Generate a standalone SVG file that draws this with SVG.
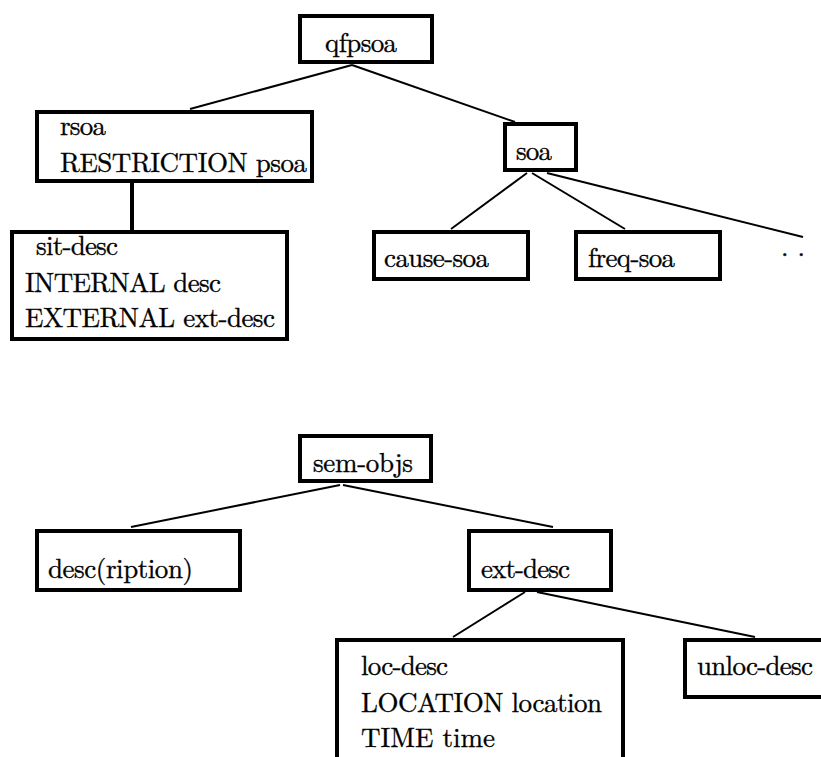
<svg xmlns="http://www.w3.org/2000/svg" width="821" height="757" viewBox="0 0 821 757">
<style>
.box{fill:none;stroke:#000;stroke-width:4}
.ln{stroke:#000;stroke-width:2;fill:none}
.thick{stroke:#000;stroke-width:4;fill:none}
text{font-family:'Latin Modern Roman','Liberation Serif',serif;font-size:27px;fill:#000;stroke:#000;stroke-width:0.35}
</style>
<rect width="821" height="757" fill="#fff"/>
<g id="connectors">
<line class="ln" x1="352" y1="65" x2="190" y2="109"/>
<line class="ln" x1="352" y1="65" x2="515" y2="122"/>
<line class="thick" x1="132" y1="183" x2="132" y2="231"/>
<line class="ln" x1="527" y1="173" x2="451" y2="229"/>
<line class="ln" x1="532" y1="173" x2="625" y2="229"/>
<line class="ln" x1="547" y1="173" x2="803" y2="237"/>
<line class="ln" x1="340" y1="485" x2="131" y2="527"/>
<line class="ln" x1="343" y1="485" x2="553" y2="527"/>
<line class="ln" x1="525" y1="592" x2="453" y2="637"/>
<line class="ln" x1="537" y1="592" x2="755" y2="637"/>
</g>
<g id="qfpsoa"><rect class="box" x="300" y="16" width="132" height="46"/><text x="325" y="52" textLength="72" lengthAdjust="spacing">qfpsoa</text></g>
<g id="rsoa"><rect class="box" x="37" y="112" width="275" height="69"/><text x="60" y="135" textLength="46" lengthAdjust="spacing">rsoa</text><text x="60" y="172" textLength="247" lengthAdjust="spacing">RESTRICTION psoa</text></g>
<g id="sit-desc"><rect class="box" x="12" y="232" width="275" height="107"/><text x="36" y="255" textLength="82" lengthAdjust="spacing">sit-desc</text><text x="25" y="292" textLength="196" lengthAdjust="spacing">INTERNAL desc</text><text x="25" y="327" textLength="250" lengthAdjust="spacing">EXTERNAL ext-desc</text></g>
<g id="soa"><rect class="box" x="505" y="124" width="71" height="46"/><text x="516" y="160" textLength="36" lengthAdjust="spacing">soa</text></g>
<g id="cause-soa"><rect class="box" x="374" y="232" width="154" height="47"/><text x="384" y="267" textLength="105" lengthAdjust="spacing">cause-soa</text></g>
<g id="freq-soa"><rect class="box" x="576" y="232" width="144" height="47"/><text x="588" y="267" textLength="87" lengthAdjust="spacing">freq-soa</text></g>
<g id="more"><text x="781" y="256" textLength="24" lengthAdjust="spacing">. .</text></g>
<g id="sem-objs"><rect class="box" x="300" y="436" width="131" height="45"/><text x="313" y="472" textLength="100" lengthAdjust="spacing">sem-objs</text></g>
<g id="description"><rect class="box" x="37" y="531" width="203" height="59"/><text x="48" y="578" textLength="145" lengthAdjust="spacing">desc(ription)</text></g>
<g id="ext-desc"><rect class="box" x="469" y="531" width="142" height="59"/><text x="481" y="578" textLength="89" lengthAdjust="spacing">ext-desc</text></g>
<g id="loc-desc"><rect class="box" x="337" y="640" width="286" height="200"/><text x="361" y="675" textLength="87" lengthAdjust="spacing">loc-desc</text><text x="361" y="712" textLength="241" lengthAdjust="spacing">LOCATION location</text><text x="361" y="747" textLength="134" lengthAdjust="spacing">TIME  time</text></g>
<g id="unloc-desc"><rect class="box" x="685" y="640" width="150" height="57"/><text x="697" y="675" textLength="116" lengthAdjust="spacing">unloc-desc</text></g>
</svg>
